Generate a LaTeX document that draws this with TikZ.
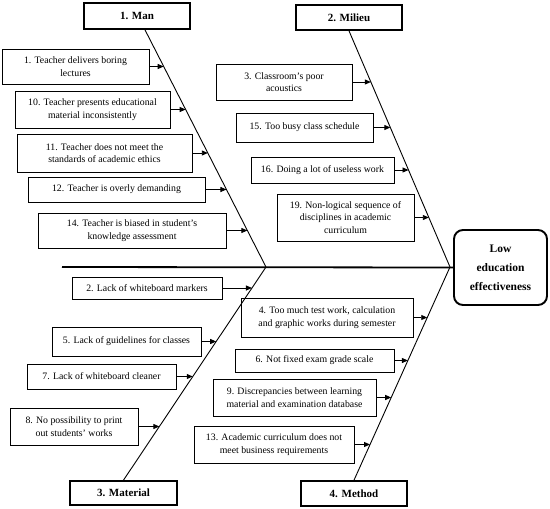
\documentclass[tikz,border=0pt]{standalone}
\usepackage{fontspec}
\setmainfont{Liberation Serif}
\usetikzlibrary{arrows.meta,intersections}

\tikzset{
  cause/.style={draw, line width=0.8pt, align=center, inner sep=1pt,
    font=\fontsize{9.8}{12.5}\selectfont},
  category/.style={draw, line width=1.7pt, inner sep=1pt,
    font=\fontsize{11}{13}\selectfont\bfseries},
  effect/.style={draw, line width=1.9pt, rounded corners=9pt, align=center,
    font=\fontsize{11.5}{19}\selectfont\bfseries},
  bone/.style={line width=0.9pt},
  spine/.style={line width=1.8pt},
  feed/.style={-{Triangle[length=6pt,width=5pt]}, line width=0.9pt}
}

\begin{document}
\begin{tikzpicture}[x=1pt,y=-1pt]
    \useasboundingbox (0,0) rectangle (550,509);

    % Categories and effect
    \node[category, minimum width=106pt, minimum height=26pt] (man) at (137,16) {1. Man};
    \node[category, minimum width=106pt, minimum height=25pt] (milieu) at (349,17.5) {2. Milieu};
    \node[category, minimum width=107pt, minimum height=24pt] (material) at (123.5,493) {3. Material};
    \node[category, minimum width=106pt, minimum height=25pt] (method) at (354,493.5) {4. Method};
    \node[effect, minimum width=93pt, minimum height=75pt] (effect) at (500.5,267.5) {Low\\education\\effectiveness};

    % Skeleton
    \coordinate (tail) at (62,267);
    \coordinate (j1) at (266,267);
    \coordinate (j2) at (450,267);
    \coordinate (manT) at ([xshift=8pt]man.south);
    \coordinate (milT) at (milieu.south);
    \coordinate (matB) at (material.north);
    \coordinate (metB) at (method.north);

    \draw[spine] (tail) -- (effect.west);
    \draw[bone, name path=manbone] (manT) -- (j1);
    \draw[bone, name path=milbone] (milT) -- (j2);
    \draw[bone, name path=matbone] (matB) -- (j1);
    \draw[bone, name path=metbone] (metB) -- (j2);

    % Man causes
    \node[cause, minimum width=147pt, minimum height=35pt] (c1) at (75.5,66.5) {1. Teacher delivers boring\\lectures};
    \node[cause, minimum width=155pt, minimum height=37pt] (c10) at (92.5,109.5) {10. Teacher presents educational\\material inconsistently};
    \node[cause, minimum width=175pt, minimum height=38pt] (c11) at (104.5,153) {11. Teacher does not meet the\\standards of academic ethics};
    \node[cause, minimum width=177pt, minimum height=25pt] (c12) at (116.5,189.5) {12. Teacher is overly demanding};
    \node[cause, minimum width=188pt, minimum height=35pt] (c14) at (132,230.5) {14. Teacher is biased in student's\\knowledge assessment};

    % Milieu causes
    \node[cause, minimum width=136pt, minimum height=36pt] (c3) at (284,82) {3. Classroom's poor\\acoustics};
    \node[cause, minimum width=137pt, minimum height=29pt] (c15) at (304.5,127.5) {15. Too busy class schedule};
    \node[cause, minimum width=143pt, minimum height=26pt] (c16) at (322.5,170) {16. Doing a lot of useless work};
    \node[cause, minimum width=137pt, minimum height=47pt] (c19) at (345.5,217.5) {19. Non-logical sequence of\\disciplines in academic\\curriculum};

    % Material causes
    \node[cause, minimum width=150pt, minimum height=22pt] (c2) at (147,288) {2. Lack of whiteboard markers};
    \node[cause, minimum width=149pt, minimum height=29pt] (c5) at (126.5,341.5) {5. Lack of guidelines for classes};
    \node[cause, minimum width=149pt, minimum height=25pt] (c7) at (101.5,376.5) {7. Lack of whiteboard cleaner};
    \node[cause, minimum width=128pt, minimum height=37pt] (c8) at (74,426.5) {8. No possibility to print\\out students' works};

    % Method causes
    \node[cause, minimum width=172pt, minimum height=39pt] (c4) at (327,317.5) {4. Too much test work, calculation\\and graphic works during semester};
    \node[cause, minimum width=159pt, minimum height=23pt] (c6) at (314.5,360.5) {6. Not fixed exam grade scale};
    \node[cause, minimum width=163pt, minimum height=37pt] (c9) at (294.5,397.5) {9. Discrepancies between learning\\material and examination database};
    \node[cause, minimum width=160pt, minimum height=37pt] (c13) at (274,444.5) {13. Academic curriculum does not\\meet business requirements};

    % Arrows onto the bones
    \foreach \c/\b in {c1/manbone, c10/manbone, c11/manbone, c12/manbone, c14/manbone,
                       c3/milbone, c15/milbone, c16/milbone, c19/milbone,
                       c2/matbone, c5/matbone, c7/matbone, c8/matbone,
                       c4/metbone, c6/metbone, c9/metbone, c13/metbone}
    {
        \path[name path=ray] (\c.east) -- ++(120,0);
        \draw[feed, name intersections={of=ray and \b}] (\c.east) -- (intersection-1);
    }

\end{tikzpicture}
\end{document}
